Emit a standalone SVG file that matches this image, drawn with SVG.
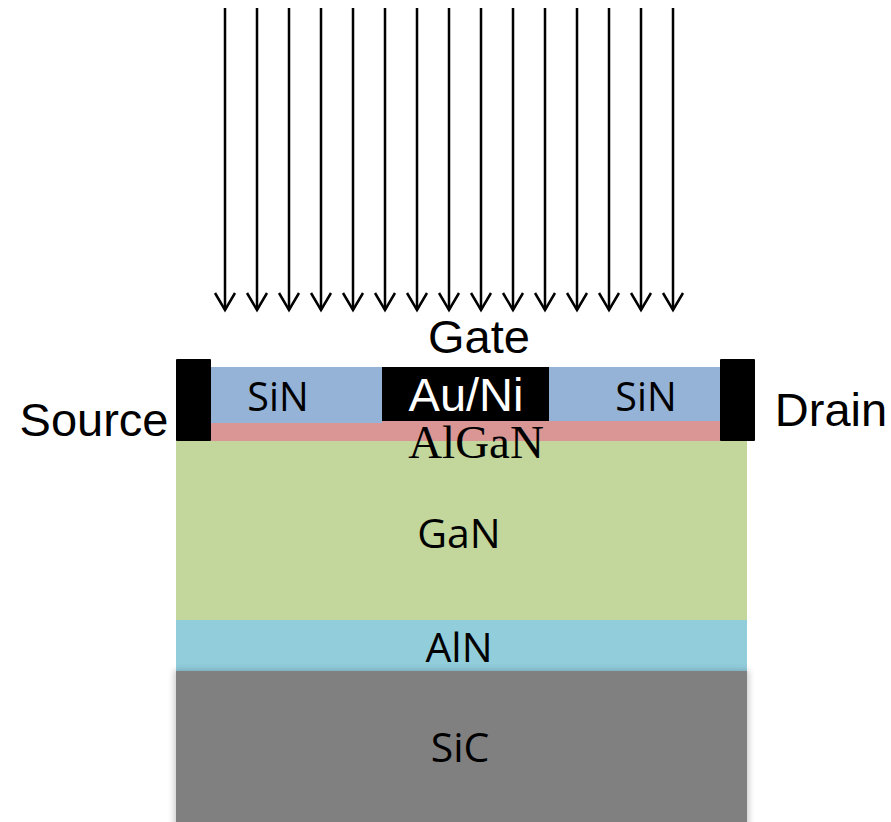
<svg xmlns="http://www.w3.org/2000/svg" width="891" height="822" viewBox="0 0 891 822">
<defs><marker id="a" markerUnits="userSpaceOnUse" markerWidth="24" markerHeight="24" refX="10" refY="22" viewBox="0 0 20 24" overflow="visible"><path d="M0 5L10 22L20 5" fill="none" stroke="#000" stroke-width="2.5"/></marker>
<filter id="sh" x="-5%" y="-10%" width="110%" height="120%"><feGaussianBlur stdDeviation="3"/></filter></defs>
<style>
.c{stroke:#000;stroke-width:2.5;fill:none;marker-end:url(#a)}
.s{font-family:"Liberation Sans",Arial,sans-serif;font-size:47px;fill:#000;text-anchor:middle}
.o{font-family:"Open Sans","Noto Sans",sans-serif;font-size:41px;fill:#000;text-anchor:middle}
.n{font-size:39.5px}
</style>
<rect width="891" height="822" fill="#fff"/>
<g id="connectors">
<path class="c" d="M225 8V310"/><path class="c" d="M257 8V310"/><path class="c" d="M289 8V310"/><path class="c" d="M321 8V310"/><path class="c" d="M353 8V310"/><path class="c" d="M385 8V310"/><path class="c" d="M417 8V310"/><path class="c" d="M449 8V310"/><path class="c" d="M481 8V310"/><path class="c" d="M513 8V310"/><path class="c" d="M545 8V310"/><path class="c" d="M577 8V310"/><path class="c" d="M609 8V310"/><path class="c" d="M641 8V310"/><path class="c" d="M673 8V310"/>
</g>
<g id="aln"><rect x="176" y="620" width="571" height="51" fill="#92cddc"/></g>
<g id="sic"><rect x="174" y="670" width="575" height="160" fill="#000" opacity=".2" filter="url(#sh)"/><rect x="176" y="671" width="571" height="151" fill="#808080"/><text class="o" x="460" y="762">SiC</text></g>
<text class="o" x="459" y="662">AlN</text>
<g id="gan"><rect x="176" y="441" width="571" height="179" fill="#c3d69b"/><text class="o" x="459" y="548">GaN</text></g>
<g id="algan"><rect x="176" y="421" width="571" height="20" fill="#d99694"/><text x="476" y="458" font-family="'Liberation Serif',serif" font-size="47" text-anchor="middle">AlGaN</text></g>
<g id="sin-left"><rect x="210" y="367" width="172" height="56" fill="#95b3d7"/><text class="o n" x="278" y="411">SiN</text></g>
<g id="sin-right"><rect x="549" y="367" width="172" height="54" fill="#95b3d7"/><text class="o n" x="646" y="411">SiN</text></g>
<g id="gate-metal"><rect x="382" y="367" width="167" height="54" fill="#000"/><text class="s" x="466" y="411" style="fill:#fff">Au/Ni</text></g>
<g id="gate"><text class="s" x="479" y="353">Gate</text></g>
<g id="source"><rect x="176" y="359" width="35" height="82" rx="1" fill="#000"/><text class="s" x="94" y="436">Source</text></g>
<g id="drain"><rect x="720" y="359" width="35" height="82" rx="1" fill="#000"/><text class="s" x="831" y="426">Drain</text></g>
</svg>
